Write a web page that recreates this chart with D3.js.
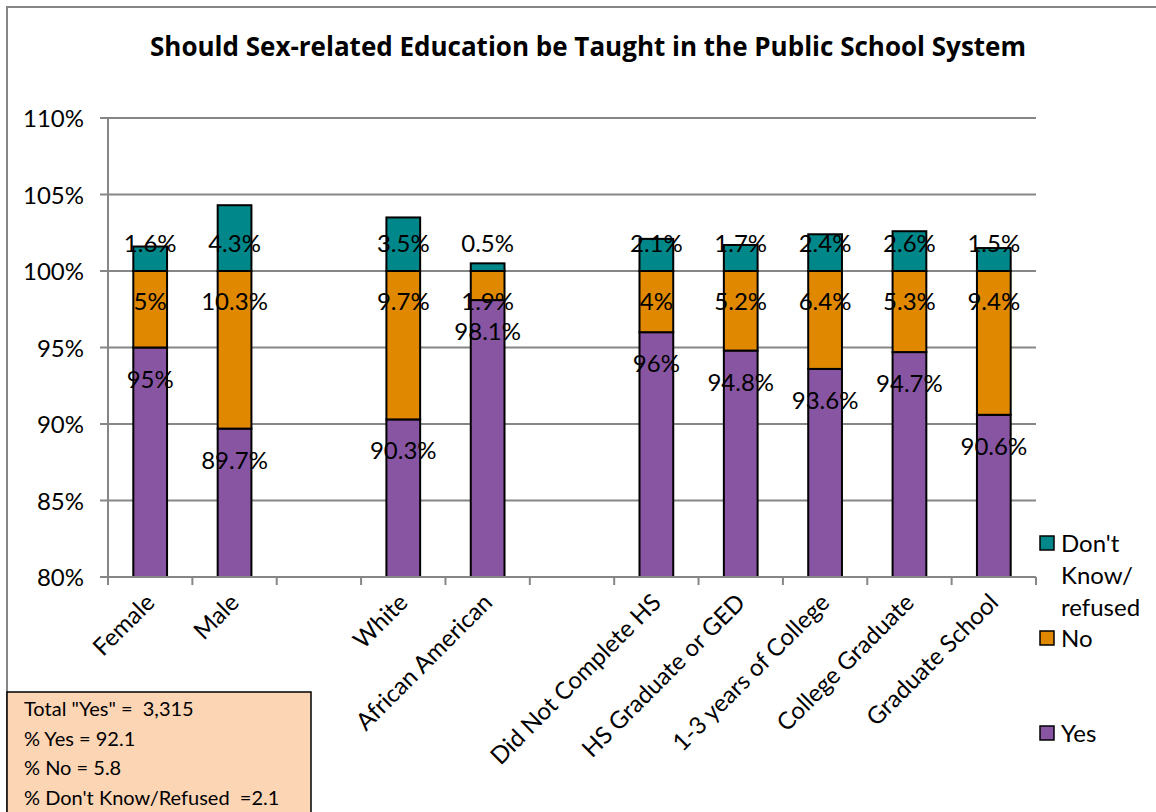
<!DOCTYPE html>
<html>
<head>
<meta charset="utf-8">
<script src="https://cdn.jsdelivr.net/npm/d3@7"></script>
<style>
  body { margin: 0; background: #fff; }
  svg { display: block; font-family: Lato, "Open Sans", sans-serif; }
</style>
</head>
<body>
<svg width="1156" height="812"></svg>
<script>
// Categories (null = empty gap slot on the axis)
var slots = ["Female", "Male", null, "White", "African American", null,
  "Did Not Complete HS", "HS Graduate or GED", "1-3 years of College",
  "College Graduate", "Graduate School"];
var categories = slots.filter(function (d) { return d !== null; });

// Series values in percent
var yesValues = [95, 89.7, 90.3, 98.1, 96, 94.8, 93.6, 94.7, 90.6];
var noValues = [5, 10.3, 9.7, 1.9, 4, 5.2, 6.4, 5.3, 9.4];
var dkValues = [1.6, 4.3, 3.5, 0.5, 2.1, 1.7, 2.4, 2.6, 1.5];

var yTicks = [80, 85, 90, 95, 100, 105, 110];
var summaryLines = ['Total "Yes" =  3,315', "% Yes = 92.1", "% No = 5.8",
  "% Don't Know/Refused  =2.1"];

var colors = { yes: "#8855a2", no: "#df8800", dk: "#00878a" };

var svg = d3.select("svg"),
  plot = { left: 108, right: 1036, top: 118, bottom: 577 };

// chart area border (open on the right and bottom)
svg.append("rect")
  .attr("x", 7).attr("y", 7)
  .attr("width", 1200).attr("height", 900)
  .attr("fill", "none").attr("stroke", "#868686").attr("stroke-width", 2);

svg.append("text")
  .attr("x", 588).attr("y", 56)
  .attr("text-anchor", "middle")
  .style("font-family", "'Open Sans', sans-serif")
  .style("font-weight", "bold").style("font-size", "26px")
  .text("Should Sex-related Education be Taught in the Public School System");

var slotIds = slots.map(function (d, i) { return d === null ? "gap" + i : d; });

var x = d3.scaleBand()
  .domain(slotIds)
  .range([plot.left, plot.right])
  .padding(0);

var y = d3.scaleLinear()
  .domain([80, 110])
  .range([plot.bottom, plot.top]);

// gridlines and y labels
var grid = svg.append("g");
grid.selectAll("line")
  .data(yTicks)
  .enter().append("line")
  .attr("x1", plot.left - 8).attr("x2", plot.right)
  .attr("y1", function (d) { return y(d); })
  .attr("y2", function (d) { return y(d); })
  .attr("stroke", "#868686").attr("stroke-width", 2);

grid.selectAll("text")
  .data(yTicks)
  .enter().append("text")
  .attr("x", 84)
  .attr("y", function (d) { return y(d) + 9; })
  .attr("text-anchor", "end")
  .style("font-size", "24px")
  .text(function (d) { return d + "%"; });

svg.append("line")
  .attr("x1", plot.left).attr("x2", plot.left)
  .attr("y1", plot.top).attr("y2", plot.bottom)
  .attr("stroke", "#868686").attr("stroke-width", 2);

// stacked data
var rows = categories.map(function (c, i) {
  return { cat: c, yes: yesValues[i], no: noValues[i], dk: dkValues[i] };
});
var keys = ["yes", "no", "dk"];
var series = d3.stack().keys(keys)(rows);

svg.append("clipPath").attr("id", "clip")
  .append("rect")
  .attr("x", plot.left).attr("y", plot.top - 50)
  .attr("width", plot.right - plot.left)
  .attr("height", plot.bottom - plot.top + 50);

var bw = x.bandwidth() * 0.4;

svg.append("g").attr("clip-path", "url(#clip)")
  .selectAll("g")
  .data(series)
  .enter().append("g")
  .attr("fill", function (s) { return colors[s.key]; })
  .selectAll("rect")
  .data(function (s) { return s; })
  .enter().append("rect")
  .attr("x", function (d) { return x(d.data.cat) + (x.bandwidth() - bw) / 2; })
  .attr("y", function (d) { return y(d[1]); })
  .attr("width", bw)
  .attr("height", function (d) { return y(d[0]) - y(d[1]); })
  .attr("stroke", "#000").attr("stroke-width", 2);

// x axis with ticks at slot boundaries
svg.append("line")
  .attr("x1", plot.left).attr("x2", plot.right)
  .attr("y1", plot.bottom).attr("y2", plot.bottom)
  .attr("stroke", "#868686").attr("stroke-width", 2);

var edges = slotIds.map(function (d) { return x(d); }).concat([plot.right]);
svg.selectAll(".xtick")
  .data(edges)
  .enter().append("line")
  .attr("class", "xtick")
  .attr("x1", function (d) { return d; }).attr("x2", function (d) { return d; })
  .attr("y1", plot.bottom).attr("y2", plot.bottom + 8)
  .attr("stroke", "#868686").attr("stroke-width", 2);

svg.selectAll(".xlabel")
  .data(categories)
  .enter().append("text")
  .attr("class", "xlabel")
  .attr("text-anchor", "end")
  .style("font-size", "24px")
  .attr("transform", function (d) {
    return "translate(" + (x(d) + x.bandwidth() / 2 + 6) + "," + (plot.bottom + 27) + ") rotate(-45)";
  })
  .text(function (d) { return d; });

// data labels
function cx(d) { return x(d.cat) + x.bandwidth() / 2; }
var labels = svg.append("g").style("font-size", "24px").attr("text-anchor", "middle");
labels.selectAll(".lyes").data(rows).enter().append("text")
  .attr("x", cx).attr("y", function (d) { return y(d.yes) + 40; })
  .text(function (d) { return d.yes + "%"; });
labels.selectAll(".lno").data(rows).enter().append("text")
  .attr("x", cx).attr("y", function (d) { return y(d.yes + d.no) + 39; })
  .text(function (d) { return d.no + "%"; });
labels.selectAll(".ldk").data(rows).enter().append("text")
  .attr("x", cx).attr("y", function (d) { return y(d.yes + d.no) - 19; })
  .text(function (d) { return d.dk + "%"; });

// legend
var legendItems = [
  { key: "dk", lines: ["Don't", "Know/", "refused"], y: 543 },
  { key: "no", lines: ["No"], y: 638 },
  { key: "yes", lines: ["Yes"], y: 733 }
];
var lg = svg.append("g").selectAll("g").data(legendItems).enter().append("g");
lg.append("rect")
  .attr("x", 1040).attr("y", function (d) { return d.y - 7; })
  .attr("width", 14).attr("height", 14)
  .attr("fill", function (d) { return colors[d.key]; })
  .attr("stroke", "#000").attr("stroke-width", 1.5);
lg.selectAll("text")
  .data(function (d) { return d.lines.map(function (t, i) { return { t: t, y: d.y + 9 + i * 32 }; }); })
  .enter().append("text")
  .attr("x", 1061).attr("y", function (d) { return d.y; })
  .style("font-size", "24px")
  .text(function (d) { return d.t; });

// summary box
svg.append("rect")
  .attr("x", 7).attr("y", 692)
  .attr("width", 304).attr("height", 140)
  .attr("fill", "#fcd5b5").attr("stroke", "#000").attr("stroke-width", 1.5);
svg.append("g").selectAll("text")
  .data(summaryLines)
  .enter().append("text")
  .attr("x", 24)
  .attr("y", function (d, i) { return 716 + i * 29.5; })
  .style("font-size", "20px")
  .style("white-space", "pre")
  .text(function (d) { return d; });
</script>
</body>
</html>
